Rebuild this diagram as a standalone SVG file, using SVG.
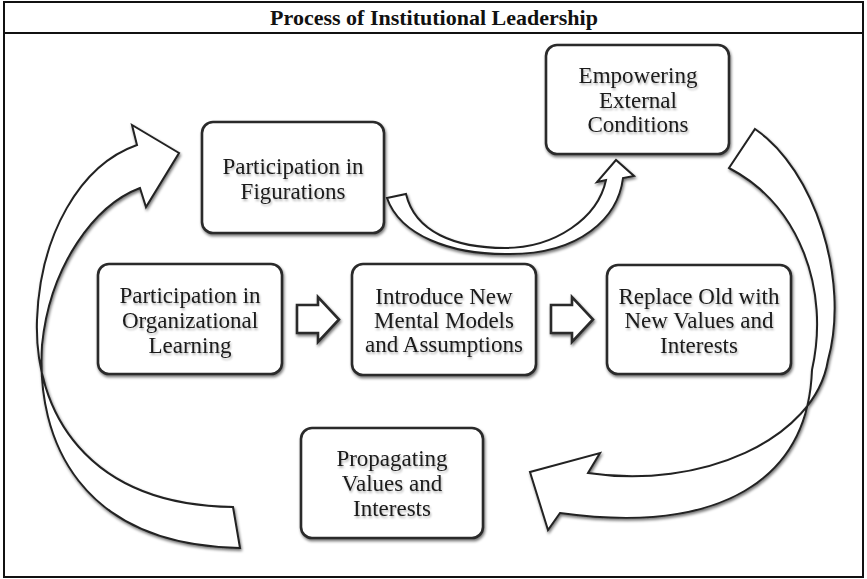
<svg xmlns="http://www.w3.org/2000/svg" width="867" height="579" viewBox="0 0 867 579">
  <defs>
    <filter id="sh" x="-10%" y="-10%" width="125%" height="130%">
      <feGaussianBlur in="SourceAlpha" stdDeviation="1.6"/>
      <feOffset dx="0.5" dy="1.8" result="b"/>
      <feComponentTransfer in="b" result="c"><feFuncA type="linear" slope="0.55"/></feComponentTransfer>
      <feMerge><feMergeNode in="c"/><feMergeNode in="SourceGraphic"/></feMerge>
    </filter>
    <filter id="tsh" x="-5%" y="-20%" width="110%" height="150%">
      <feGaussianBlur in="SourceAlpha" stdDeviation="1.2"/>
      <feOffset dx="0.5" dy="2" result="b"/>
      <feComponentTransfer in="b" result="c"><feFuncA type="linear" slope="0.3"/></feComponentTransfer>
      <feMerge><feMergeNode in="c"/><feMergeNode in="SourceGraphic"/></feMerge>
    </filter>
  </defs>
  <style>
    .frame { fill: #ffffff; stroke: #111111; stroke-width: 2; }
    .title { font-family: "Liberation Serif", "Times New Roman", serif; font-weight: bold; font-size: 22px; fill: #111111; text-anchor: middle; }
    .box { fill: #ffffff; stroke: #2a2a2a; stroke-width: 2.6; filter: url(#sh); }
    .lbl { font-family: "Liberation Serif", "Times New Roman", serif; font-size: 23px; fill: #1a1a1a; text-anchor: middle; filter: url(#tsh); }
    .carrow { fill: #ffffff; stroke: #222222; stroke-width: 2; stroke-linejoin: miter; filter: url(#sh); }
    .barrow { fill: #ffffff; stroke: #2a2a2a; stroke-width: 2.6; stroke-linejoin: miter; filter: url(#sh); }
  </style>

  <rect class="frame" x="4" y="2" width="859" height="575"/>
  <line x1="4" y1="33" x2="863" y2="33" stroke="#111111" stroke-width="2"/>
  <text class="title" x="434" y="25">Process of Institutional Leadership</text>

  <g id="connectors">
    <path class="carrow" d="M 387,198 L 406,194 C 415,232 455,248 505,248 C 555,248 598,218 606,180 L 597,182 L 616,160 L 634,176 L 623,178 C 618,218 580,254 510,254 C 450,255 400,235 387,198 Z"/>
    <path class="carrow" d="M 729,168 L 755,129 C 815,170 850,280 828,360 C 815,440 700,490 588,473 L 600,453 L 530,472 L 548,530 L 560,513 C 720,535 808,480 812,370 C 830,290 800,205 729,168 Z"/>
    <path class="carrow" d="M 233,507 L 240,548 C 80,545 36,440 42,345 C 50,265 95,205 140,188 L 146,207 L 179,153 L 132,125 L 137,145 C 80,165 40,235 37,320 C 34,410 85,505 233,507 Z"/>
    <path class="barrow" d="M 297,305 L 318,305 L 318,297 L 339,319.5 L 318,342 L 318,333 L 297,333 Z"/>
    <path class="barrow" d="M 551,305 L 572,305 L 572,297 L 593,319.5 L 572,342 L 572,333 L 551,333 Z"/>
  </g>

  <g id="node-figurations">
    <rect class="box" x="202" y="122" width="182" height="111" rx="11"/>
    <text class="lbl" x="293" y="174">Participation in</text>
    <text class="lbl" x="293" y="199">Figurations</text>
  </g>

  <g id="node-empowering">
    <rect class="box" x="546" y="45" width="183" height="109" rx="11"/>
    <text class="lbl" x="638" y="83">Empowering</text>
    <text class="lbl" x="638" y="108">External</text>
    <text class="lbl" x="638" y="132">Conditions</text>
  </g>

  <g id="node-organizational">
    <rect class="box" x="98" y="264" width="184" height="110" rx="11"/>
    <text class="lbl" x="190" y="303">Participation in</text>
    <text class="lbl" x="190" y="328">Organizational</text>
    <text class="lbl" x="190" y="353">Learning</text>
  </g>

  <g id="node-introduce">
    <rect class="box" x="352" y="264" width="184" height="111" rx="11"/>
    <text class="lbl" x="444" y="304">Introduce New</text>
    <text class="lbl" x="444" y="328">Mental Models</text>
    <text class="lbl" x="444" y="352">and Assumptions</text>
  </g>

  <g id="node-replace">
    <rect class="box" x="607" y="265" width="184" height="109" rx="11"/>
    <text class="lbl" x="699" y="304">Replace Old with</text>
    <text class="lbl" x="699" y="328">New Values and</text>
    <text class="lbl" x="699" y="353">Interests</text>
  </g>

  <g id="node-propagating">
    <rect class="box" x="301" y="428" width="182" height="110" rx="11"/>
    <text class="lbl" x="392" y="466">Propagating</text>
    <text class="lbl" x="392" y="491">Values and</text>
    <text class="lbl" x="392" y="516">Interests</text>
  </g>
</svg>
